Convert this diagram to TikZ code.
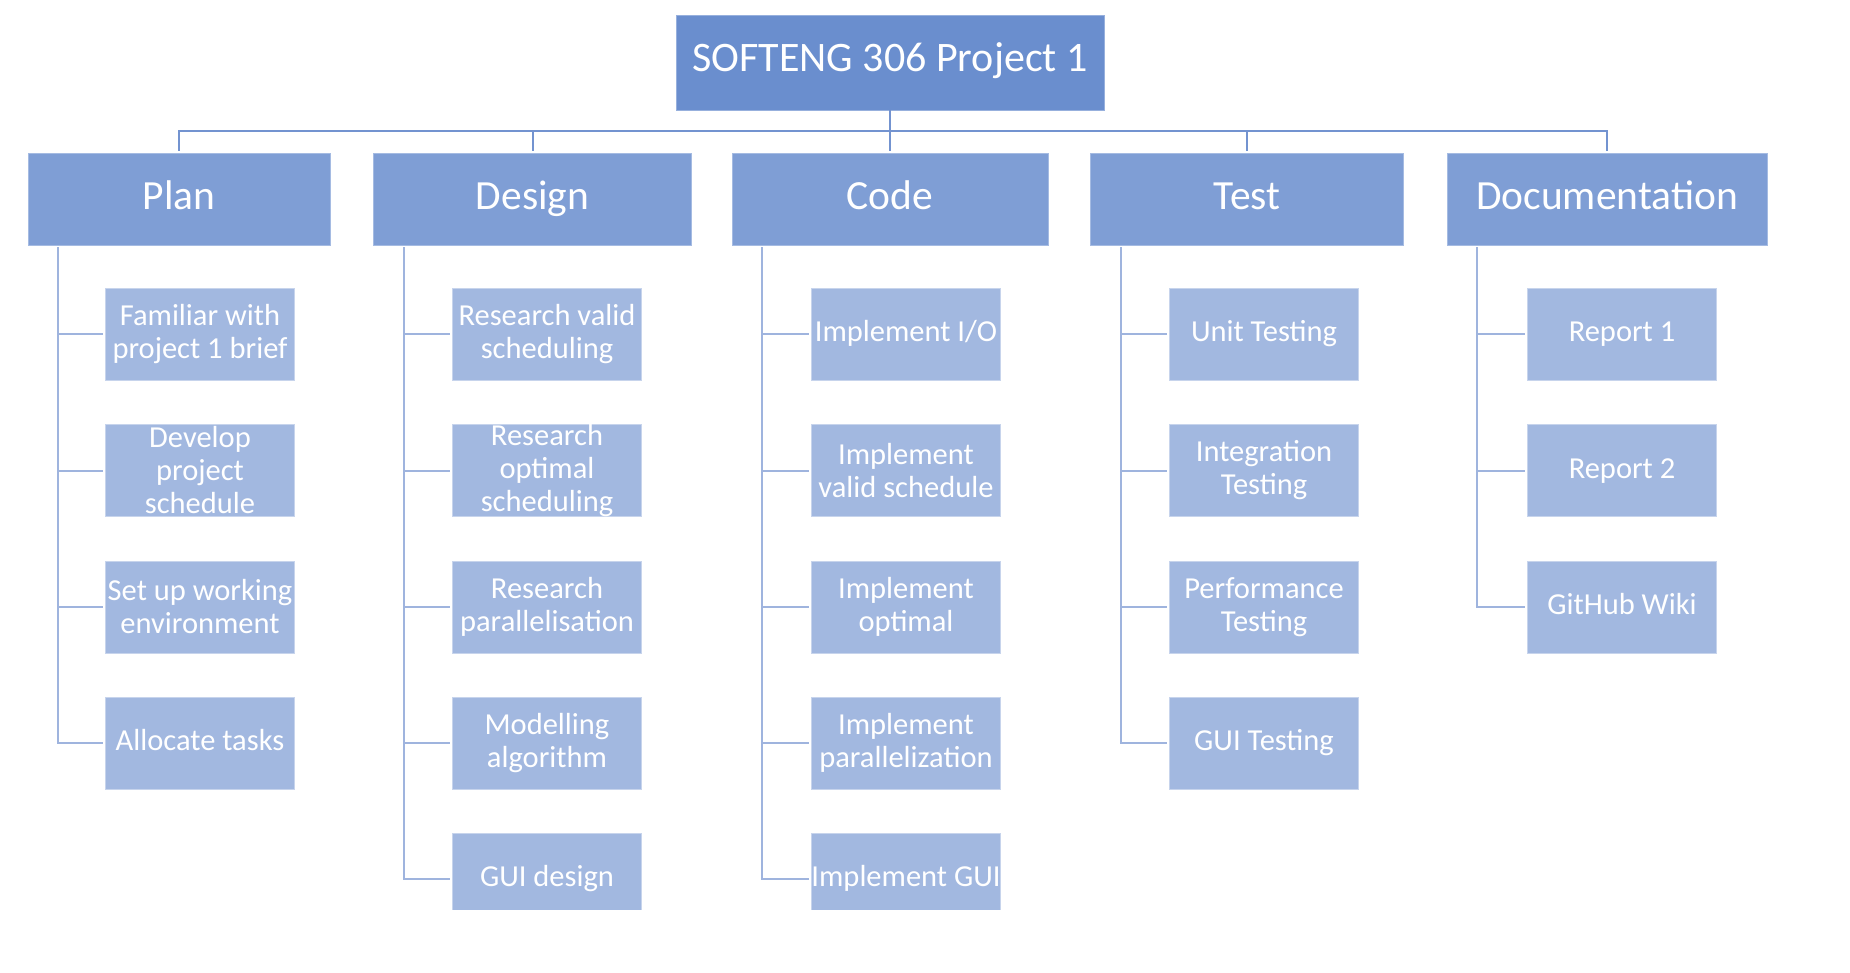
\documentclass[tikz,border=0pt]{standalone}
\usepackage{fontspec}
\setmainfont{Carlito}
\definecolor{rootblue}{HTML}{6A8ECE}
\definecolor{phaseblue}{HTML}{7F9ED5}
\definecolor{taskblue}{HTML}{A2B8E0}
\definecolor{trunkline}{HTML}{7393D0}
\definecolor{branchline}{HTML}{9FB4DE}
\begin{document}
\begin{tikzpicture}[x=1pt,y=-1pt,
  rootbox/.style={fill=rootblue,draw=rootblue!70!white,line width=0.8pt,text=white,
    minimum width=428pt,minimum height=95pt,inner sep=0pt,
    text height=30.2pt,text depth=11.8pt,
    font=\fontsize{42}{46}\selectfont},
  phasebox/.style={fill=phaseblue,draw=phaseblue!70!white,line width=0.8pt,text=white,
    minimum height=92pt,inner sep=0pt,text height=31pt,text depth=10.4pt,
    font=\fontsize{41.5}{46}\selectfont},
  taskbox/.style={fill=taskblue,draw=taskblue!60!white,line width=0.8pt,text=white,
    minimum width=189pt,minimum height=92pt,inner sep=0pt,align=center,
    font=\fontsize{30.5}{33}\selectfont},
  oneline/.style={text height=22.9pt,text depth=7.6pt},
  trunk/.style={draw=trunkline,line width=2pt},
  branch/.style={draw=branchline,line width=2pt,shorten >=2pt},
]
\useasboundingbox (0,0) rectangle (1850,972);
\begin{scope}
\clip (0,0) rectangle (1850,909);

% top of the tree
\node[rootbox] (root) at (890,62.5) {SOFTENG 306 Project 1};

% phases
\node[phasebox,minimum width=302pt] (plan) at (179,199) {Plan};
\node[phasebox,minimum width=318pt] (design) at (532.5,199) {Design};
\node[phasebox,minimum width=316pt] (code) at (890,199) {Code};
\node[phasebox,minimum width=313pt] (test) at (1247,199) {Test};
\node[phasebox,minimum width=320pt] (doc) at (1607,199) {Documentation};

% tasks of each phase
\node[taskbox] (p1) at (200,334) {Familiar with\\project 1 brief};
\node[taskbox] (p2) at (200,470.5) {Develop\\project\\schedule};
\node[taskbox] (p3) at (200,607) {Set up working\\environment};
\node[taskbox,oneline] (p4) at (200,743) {Allocate tasks};

\node[taskbox] (d1) at (547,334) {Research valid\\scheduling};
\node[taskbox] (d2) at (547,470.5) {Research\\optimal\\scheduling};
\node[taskbox] (d3) at (547,607) {Research\\parallelisation};
\node[taskbox] (d4) at (547,743) {Modelling\\algorithm};
\node[taskbox,oneline] (d5) at (547,879) {GUI design};

\node[taskbox,oneline] (c1) at (906,334) {Implement I/O};
\node[taskbox] (c2) at (906,470.5) {Implement\\valid schedule};
\node[taskbox] (c3) at (906,607) {Implement\\optimal};
\node[taskbox] (c4) at (906,743) {Implement\\parallelization};
\node[taskbox,oneline] (c5) at (906,879) {Implement GUI};

\node[taskbox,oneline] (t1) at (1264,334) {Unit Testing};
\node[taskbox] (t2) at (1264,470.5) {Integration\\Testing};
\node[taskbox] (t3) at (1264,607) {Performance\\Testing};
\node[taskbox,oneline] (t4) at (1264,743) {GUI Testing};

\node[taskbox,oneline] (r1) at (1622,334) {Report 1};
\node[taskbox,oneline] (r2) at (1622,470.5) {Report 2};
\node[taskbox,oneline] (r3) at (1622,607) {GitHub Wiki};

% root to phases
\coordinate (bus) at (890,131);
\foreach \ph in {plan,design,code,test,doc}
  \draw[trunk] (root.south) -- (bus) -| ([yshift=2pt]\ph.north);

% spines under each phase
\coordinate (plans) at ([xshift=30.5pt,yshift=-2pt]plan.south west);
\coordinate (designs) at ([xshift=30.5pt,yshift=-2pt]design.south west);
\coordinate (codes) at ([xshift=30.5pt,yshift=-2pt]code.south west);
\coordinate (tests) at ([xshift=30.5pt,yshift=-2pt]test.south west);
\coordinate (docs) at ([xshift=30.5pt,yshift=-2pt]doc.south west);

\draw[branch] (plans) |- (p4.west);
\foreach \t in {p1,p2,p3} \draw[branch] (plans |- \t.west) -- (\t.west);
\draw[branch] (designs) |- (d5.west);
\foreach \t in {d1,d2,d3,d4} \draw[branch] (designs |- \t.west) -- (\t.west);
\draw[branch] (codes) |- (c5.west);
\foreach \t in {c1,c2,c3,c4} \draw[branch] (codes |- \t.west) -- (\t.west);
\draw[branch] (tests) |- (t4.west);
\foreach \t in {t1,t2,t3} \draw[branch] (tests |- \t.west) -- (\t.west);
\draw[branch] (docs) |- (r3.west);
\foreach \t in {r1,r2} \draw[branch] (docs |- \t.west) -- (\t.west);
\end{scope}
\end{tikzpicture}
\end{document}
